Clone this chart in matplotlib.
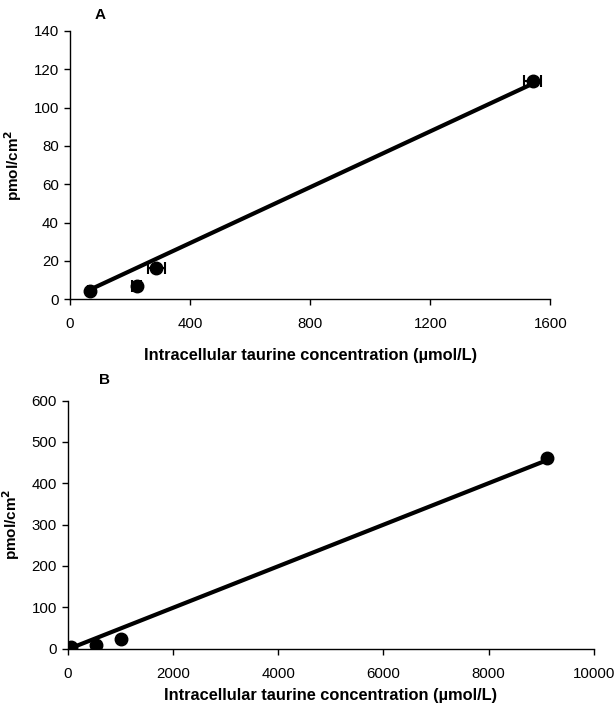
import matplotlib
matplotlib.use("Agg")
import matplotlib.pyplot as plt

plt.rcParams['font.family'] = ['Liberation Sans', 'DejaVu Sans']

# Panel A data
a_x = [66, 223, 287, 1541]
a_y = [4.5, 6.9, 16.5, 114.0]
a_xerr = [5, 15, 28, 29]
a_line_x = [66, 1541]
a_line_y = [5.0, 112.5]
a_xticks = [0, 400, 800, 1200, 1600]
a_yticks = [0, 20, 40, 60, 80, 100, 120, 140]

# Panel B data
b_x = [66, 524, 1011, 9116]
b_y = [4.0, 9.0, 24.4, 460.0]
b_line_x = [66, 9116]
b_line_y = [2.0, 456.0]
b_xticks = [0, 2000, 4000, 6000, 8000, 10000]
b_yticks = [0, 100, 200, 300, 400, 500, 600]

W, H = 614, 704
fig = plt.figure(figsize=(W / 100, H / 100), dpi=100)

def style(ax):
    ax.spines['top'].set_visible(False)
    ax.spines['right'].set_visible(False)
    for s in ('left', 'bottom'):
        ax.spines[s].set_linewidth(1.0)
    ax.tick_params(axis='both', direction='out', length=4, width=1.0,
                   labelsize=10.8)
    ax.tick_params(axis='x', pad=9)
    ax.tick_params(axis='y', pad=4)

XLAB = 'Intracellular taurine concentration (µmol/L)'
YLAB = 'pmol/cm$^\\mathbf{2}$'

axA = fig.add_axes([70 / W, 1 - 299.3 / H, (550.4 - 70) / W, (299.3 - 31) / H])
axA.plot(a_line_x, a_line_y, color='black', lw=3.0, solid_capstyle='butt', zorder=2)
axA.errorbar(a_x, a_y, xerr=a_xerr, fmt='o', color='black', ms=9,
             elinewidth=1.5, capsize=4, capthick=1.5, zorder=3)
axA.set_xlim(0, 1600)
axA.set_ylim(0, 140)
axA.set_xticks(a_xticks)
axA.set_yticks(a_yticks)
style(axA)
axA.set_xlabel(XLAB, fontsize=11.8, fontweight='bold', labelpad=12)
axA.set_ylabel(YLAB, fontsize=11, fontweight='bold', labelpad=7)
fig.text(100 / W, 1 - 15 / H, 'A', fontsize=11, fontweight='bold',
         ha='center', va='center')

axB = fig.add_axes([68 / W, 1 - 648.7 / H, (593.7 - 68) / W, (648.7 - 400.5) / H])
axB.plot(b_line_x, b_line_y, color='black', lw=3.0, solid_capstyle='butt', zorder=2)
axB.plot(b_x, b_y, 'o', color='black', ms=9, zorder=3)
axB.set_xlim(0, 10000)
axB.set_ylim(0, 600)
axB.set_xticks(b_xticks)
axB.set_yticks(b_yticks)
style(axB)
axB.set_xlabel(XLAB, fontsize=11.8, fontweight='bold', labelpad=5)
axB.set_ylabel(YLAB, fontsize=11, fontweight='bold', labelpad=7)
fig.text(104 / W, 1 - 380 / H, 'B', fontsize=11, fontweight='bold',
         ha='center', va='center')

fig.savefig('out.png', dpi=100)
